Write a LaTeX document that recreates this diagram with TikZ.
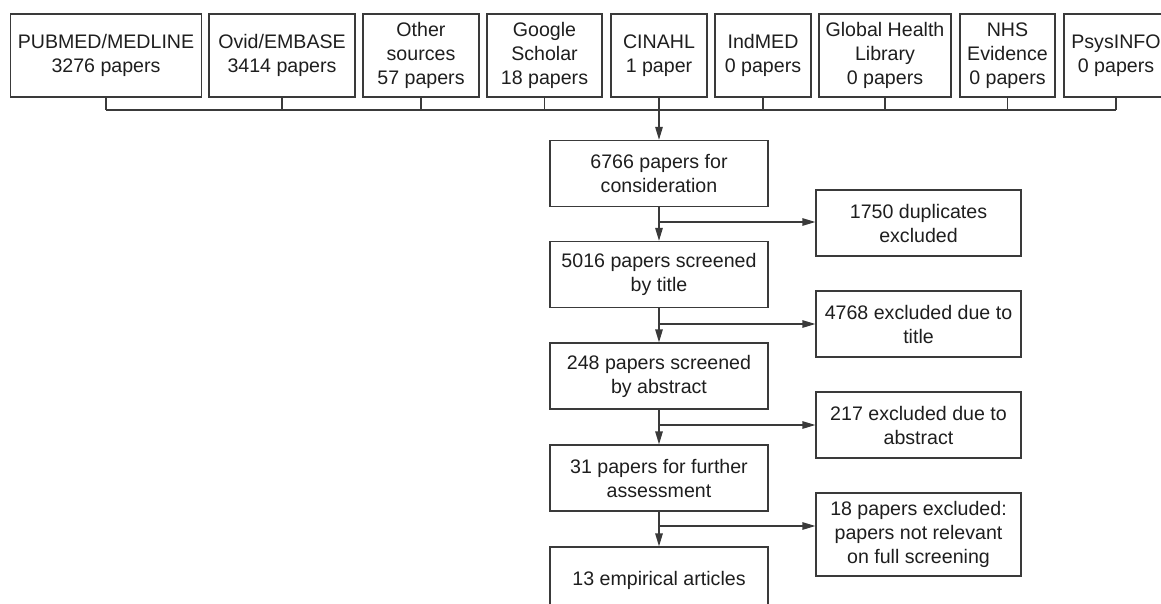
\documentclass[tikz,border=0pt]{standalone}
\usepackage{fontspec}
\setmainfont{Liberation Sans}
\usetikzlibrary{arrows.meta}
\definecolor{linec}{HTML}{3A3A3A}
\definecolor{textc}{HTML}{1E1E1E}
\begin{document}
\begin{tikzpicture}[x=1pt,y=-1pt,
  box/.style={draw=linec, line width=1.3pt, inner sep=0pt, align=center,
    font=\fontsize{19.6}{24}\selectfont, text=textc},
  topbox/.style={box, minimum height=83pt},
  mainbox/.style={box, minimum width=218pt, minimum height=66pt},
  sidebox/.style={box, minimum width=205pt, minimum height=66pt},
  conn/.style={draw=linec, line width=1.3pt},
  arr/.style={conn, -{Triangle[length=13pt,width=7.5pt]}}]
\useasboundingbox (0,0) rectangle (1161,604);
% source boxes
\node[topbox, minimum width=191pt] (s1) at (106,55.5) {PUBMED/MEDLINE\\3276 papers};
\node[topbox, minimum width=146pt] (s2) at (282,55.5) {Ovid/EMBASE\\3414 papers};
\node[topbox, minimum width=116pt] (s3) at (421,55.5) {Other\\sources\\57 papers};
\node[topbox, minimum width=115pt] (s4) at (544.5,55.5) {Google\\Scholar\\18 papers};
\node[topbox, minimum width=96pt] (s5) at (659,55.5) {CINAHL\\1 paper};
\node[topbox, minimum width=96pt] (s6) at (763,55.5) {IndMED\\0 papers};
\node[topbox, minimum width=132pt] (s7) at (885,55.5) {Global Health\\Library\\0 papers};
\node[topbox, minimum width=95pt] (s8) at (1007.5,55.5) {NHS\\Evidence\\0 papers};
\node[topbox, minimum width=104pt] (s9) at (1116,55.5) {PsysINFO\\0 papers};
% bus
\coordinate (bus) at (0,110);
\foreach \i in {1,...,9} {\draw[conn] (s\i.south) -- (s\i.south |- bus);}
\draw[conn] (s1.south |- bus) -- (s9.south |- bus);
% main column
\node[mainbox] (m1) at (659,173.5) {6766 papers for\\consideration};
\node[mainbox] (m2) at (659,274.5) {5016 papers screened\\by title};
\node[mainbox] (m3) at (659,376) {248 papers screened\\by abstract};
\node[mainbox] (m4) at (659,478) {31 papers for further\\assessment};
\node[mainbox] (m5) at (659,580) {13 empirical articles};
\draw[arr] (s5.south |- bus) -- (m1.north);
\draw[arr] (m1.south) -- (m2.north);
\draw[arr] (m2.south) -- (m3.north);
\draw[arr] (m3.south) -- (m4.north);
\draw[arr] (m4.south) -- (m5.north);
% side boxes
\node[sidebox] (r1) at (918.5,223) {1750 duplicates\\excluded};
\node[sidebox] (r2) at (918.5,324) {4768 excluded due to\\title};
\node[sidebox] (r3) at (918.5,425) {217 excluded due to\\abstract};
\node[sidebox, minimum height=83pt] (r4) at (918.5,534.5) {18 papers excluded:\\papers not relevant\\on full screening};
\coordinate (b1) at (659,222);
\coordinate (b2) at (659,324);
\coordinate (b3) at (659,425);
\coordinate (b4) at (659,526);
\draw[arr] (b1) -- (r1.west |- b1);
\draw[arr] (b2) -- (r2.west |- b2);
\draw[arr] (b3) -- (r3.west |- b3);
\draw[arr] (b4) -- (r4.west |- b4);
\end{tikzpicture}
\end{document}
